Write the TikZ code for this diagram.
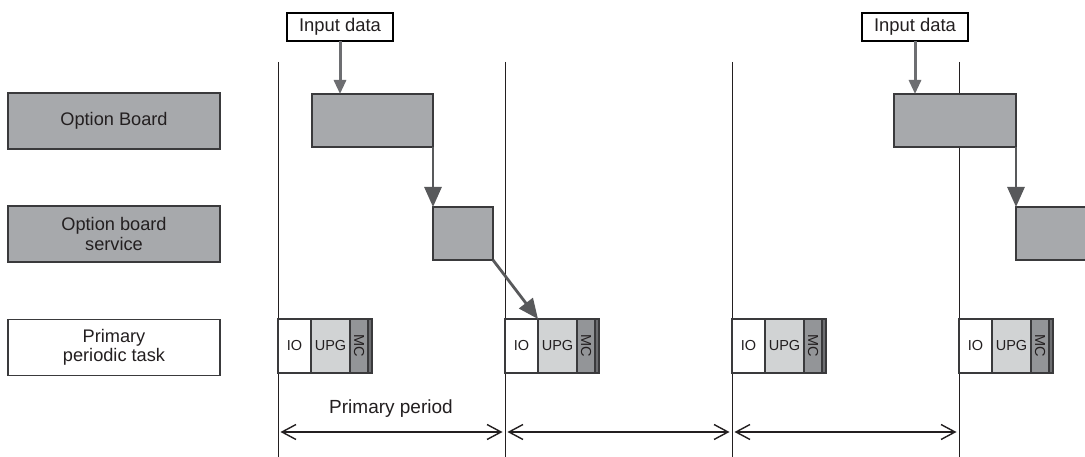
\documentclass[tikz,border=0pt]{standalone}
\usepackage{fontspec}
\setmainfont{Liberation Sans}
\usetikzlibrary{arrows.meta}
\definecolor{txt}{HTML}{231F20}
\definecolor{barfill}{HTML}{A7A9AC}
\definecolor{upgfill}{HTML}{D1D3D4}
\definecolor{mcfill}{HTML}{939598}
\definecolor{stripfill}{HTML}{6D6E71}
\definecolor{edge}{HTML}{3A3A3C}
\definecolor{arrlight}{HTML}{6D6E71}
\definecolor{arrdark}{HTML}{58595B}
\tikzset{
  box/.style={draw=edge, line width=1.2pt, inner sep=0pt, outer sep=0pt, text=txt, align=center},
  label/.style={box, fill=barfill, minimum width=212pt, minimum height=56pt, font=\fontsize{18.2}{19.5}\selectfont},
  plabel/.style={label, fill=white},
  bar/.style={box, fill=barfill},
  inbox/.style={box, draw=black, fill=white, minimum width=106pt, minimum height=28pt, font=\fontsize{18.4}{20}\selectfont},
  iobox/.style={box, fill=white, minimum width=33pt, minimum height=54pt, font=\fontsize{14.5}{16}\selectfont},
  upgbox/.style={iobox, fill=upgfill, minimum width=39pt},
  mcbox/.style={iobox, fill=mcfill, minimum width=18pt},
  stripbox/.style={iobox, fill=stripfill, minimum width=4pt},
  vline/.style={line width=1pt, draw=txt},
  flowlight/.style={draw=arrlight, line width=3pt, -{Triangle[length=14pt,width=12pt]}},
  flowdark/.style={draw=arrdark, line width=2.8pt, -{Triangle[length=20pt,width=17pt]}},
  dbl/.style={draw=txt, line width=1.2pt, {Straight Barb[length=14pt,width=15pt,line width=1.4pt]}-{Straight Barb[length=14pt,width=15pt,line width=1.4pt]}},
}
\newcommand\ptask[2]{%
  \node[iobox, anchor=north west] (#1io) at (#2,319) {IO};
  \node[upgbox, anchor=north west] (#1upg) at (#1io.north east) {UPG};
  \node[mcbox, anchor=north west] (#1mc) at (#1upg.north east) {\rotatebox{-90}{MC}};
  \node[stripbox, anchor=north west] (#1st) at (#1mc.north east) {};
}
\begin{document}
\begin{tikzpicture}[x=1pt,y=-1pt]
\clip (0,0) rectangle (1085,457);
\fill[white] (0,0) rectangle (1085,457);

% period lines
\foreach \n/\x in {1/278,2/505,3/732,4/959}{
  \coordinate (L\n t) at (\x,62);
  \coordinate (L\n b) at (\x,460);
  \coordinate (L\n a) at (\x,432);
  \draw[vline] (L\n t) -- (L\n b);
}

% left labels
\node[label] (lob) at (114,121) {Option Board};
\node[label] (los) at (114,234) {Option board\\service};
\node[plabel] (lpt) at (114,347.5) {Primary\\periodic task};

% input data
\node[inbox, anchor=north west] (in1) at (287,13) {Input data};
\node[inbox, anchor=north west] (in2) at (862,13) {Input data};

% option board bars
\node[bar, anchor=north west, minimum width=121pt, minimum height=53pt] (ob1) at (312,94) {};
\node[bar, anchor=north west, minimum width=122pt, minimum height=53pt] (ob2) at (894,94) {};

% option board service bars
\node[bar, anchor=north west, minimum width=60pt, minimum height=53pt] (sv1) at (433,207) {};
\node[bar, anchor=north west, minimum width=80pt, minimum height=53pt] (sv2) at (1016,207) {};

% primary periodic tasks
\ptask{ta}{278}
\ptask{tb}{505}
\ptask{tc}{732}
\ptask{td}{959}

% flow arrows
\draw[flowlight] (in1.south) -- (in1.south |- ob1.north);
\draw[flowlight] (in2.south) -- (in2.south |- ob2.north);
\draw[flowdark] (ob1.south east) -- (sv1.north west);
\draw[flowdark] (ob2.south east) -- (sv2.north west);
\draw[flowdark] (sv1.south east) -- (tbupg.north west);

% period arrows
\draw[dbl] ([xshift=2.5pt]L1a) -- ([xshift=-2.5pt]L2a);
\draw[dbl] ([xshift=2.5pt]L2a) -- ([xshift=-2.5pt]L3a);
\draw[dbl] ([xshift=2.5pt]L3a) -- ([xshift=-2.5pt]L4a);
\node[text=txt, font=\fontsize{19}{21}\selectfont] (pp) at (391,409) {Primary period};
\end{tikzpicture}
\end{document}
